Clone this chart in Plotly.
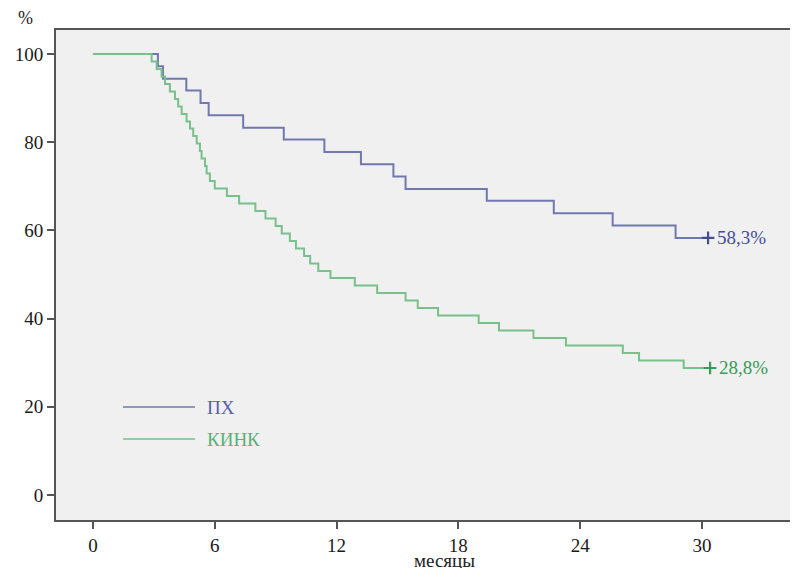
import plotly.graph_objects as go

# ---- data ----
px_times = [0, 3.2, 3.45, 4.6, 5.3, 5.7, 7.4, 9.4, 11.4, 13.2, 14.8, 15.4, 19.4, 22.7, 25.6, 28.7, 30.3]
px_surv = [100, 97.2, 94.4, 91.7, 88.9, 86.1, 83.3, 80.6, 77.8, 75.0, 72.2, 69.4, 66.7, 63.9, 61.1, 58.3, 58.3]

kink_times = [0, 2.89, 3.14, 3.38, 3.55, 3.79, 4.04, 4.20, 4.37, 4.61, 4.78, 4.94, 5.11, 5.27, 5.35,
              5.52, 5.60, 5.76, 6.0, 6.6, 7.2, 8.0, 8.5, 9.0, 9.3, 9.7, 10.0, 10.4, 10.7, 11.1, 11.7,
              12.9, 14.0, 15.4, 16.0, 17.0, 19.0, 20.0, 21.7, 23.3, 26.1, 26.9, 29.1, 30.4]
kink_surv = [100, 98.3, 96.6, 94.9, 93.2, 91.5, 89.8, 88.1, 86.4, 84.7, 83.1, 81.4, 79.7, 78.0, 76.3,
             74.6, 72.9, 71.2, 69.5, 67.8, 66.1, 64.4, 62.7, 61.0, 59.3, 57.6, 55.9, 54.2, 52.5, 50.8, 49.2,
             47.5, 45.8, 44.1, 42.4, 40.7, 39.0, 37.3, 35.6, 33.9, 32.2, 30.5, 28.8, 28.8]

group_names = ["ПХ", "КИНК"]
end_labels = ["58,3%", "28,8%"]
x_ticks = [0, 6, 12, 18, 24, 30]
y_ticks = [0, 20, 40, 60, 80, 100]

line_colors = ["#6f79ad", "#78c08c"]
text_colors = ["#434d96", "#369a58"]
legend_text_colors = ["#59629f", "#58b277"]
FONT = "Liberation Serif"

fig = go.Figure()
series = [(px_times, px_surv), (kink_times, kink_surv)]
for i, (t, s) in enumerate(series):
    fig.add_trace(go.Scatter(x=t, y=s, mode="lines", line=dict(shape="hv", color=line_colors[i], width=2),
                             name=group_names[i], showlegend=False, hoverinfo="skip"))
    fig.add_trace(go.Scatter(x=[t[-1]], y=[s[-1]], mode="markers",
                             marker=dict(symbol="cross-thin", size=9, line=dict(color=text_colors[i], width=2.2)),
                             showlegend=False, hoverinfo="skip"))
    fig.add_annotation(x=t[-1], y=s[-1], text=end_labels[i], showarrow=False, xanchor="left",
                       yanchor="middle", xshift=7, font=dict(family=FONT, size=19, color=text_colors[i]))

# manual legend
leg_y = [0.2306, 0.1653]
for i in range(2):
    fig.add_shape(type="line", xref="paper", yref="paper", x0=0.0903, x1=0.1873, y0=leg_y[i], y1=leg_y[i],
                  line=dict(color=line_colors[i], width=1.5))
    fig.add_annotation(xref="paper", yref="paper", x=0.2008, y=leg_y[i], text=group_names[i], showarrow=False,
                       xanchor="left", yanchor="middle",
                       font=dict(family=FONT, size=19, color=legend_text_colors[i]))

fig.add_annotation(xref="paper", yref="paper", x=-0.041, y=1.024, text="%", showarrow=False,
                   xanchor="center", yanchor="middle", font=dict(family=FONT, size=18, color="#222"))
fig.add_annotation(xref="paper", yref="paper", x=0.524, y=-0.058, text="месяцы", showarrow=False,
                   xanchor="center", yanchor="top", font=dict(family=FONT, size=19, color="#222"))

axis_common = dict(showgrid=False, zeroline=False, showline=True, linecolor="#555", linewidth=2,
                   ticks="outside", ticklen=7, tickwidth=1.5, tickcolor="#555",
                   tickfont=dict(family=FONT, size=19, color="#1a1a1a"))
fig.update_xaxes(range=[-1.82, 34.73], tickvals=x_ticks, mirror=True, **axis_common)
fig.update_yaxes(range=[-5.67, 105.44], tickvals=y_ticks, mirror=False, **axis_common)

# the page puts the figure 8px in from the top-left corner
fig.update_layout(width=790, height=560, margin=dict(l=48, r=0, t=22, b=48),
                  plot_bgcolor="#f0f0f0", paper_bgcolor="white", showlegend=False)

fig.write_html("out.html")
